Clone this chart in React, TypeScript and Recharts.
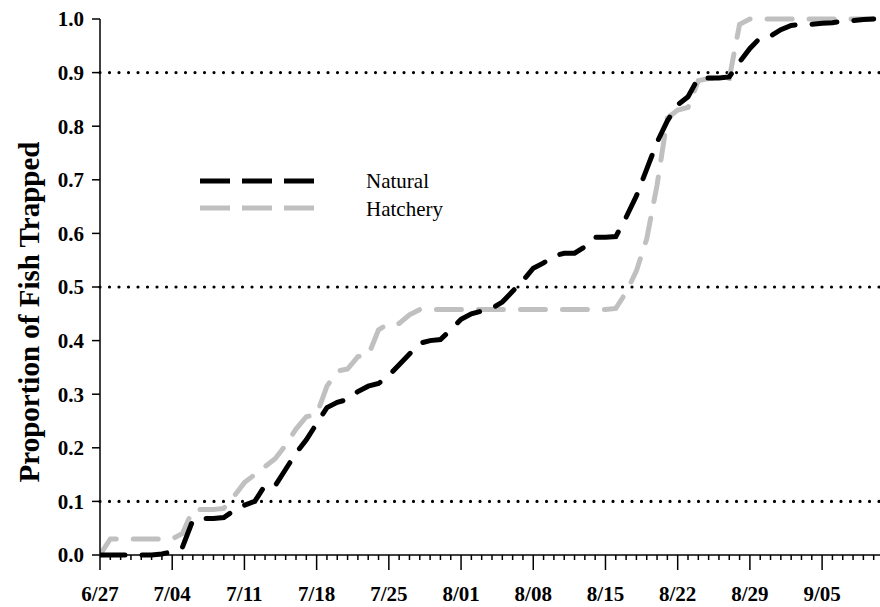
import React from 'react';
import { LineChart, Line, XAxis, YAxis, ReferenceLine, Legend, Label } from 'recharts';

// Days since 6/27 (0..75)
const days: number[] = Array.from({ length: 76 }, (_, i) => i);

const natural: number[] = [
  0, 0, 0, 0, 0, 0, 0.002, 0.006, 0.015, 0.065,
  0.068, 0.068, 0.07, 0.083, 0.093, 0.1, 0.13, 0.13, 0.16, 0.19,
  0.215, 0.245, 0.275, 0.285, 0.29, 0.305, 0.315, 0.32, 0.335, 0.355,
  0.375, 0.395, 0.4, 0.402, 0.42, 0.44, 0.45, 0.455, 0.46, 0.472,
  0.492, 0.512, 0.535, 0.545, 0.558, 0.563, 0.563, 0.575, 0.593, 0.593,
  0.594, 0.63, 0.67, 0.72, 0.77, 0.81, 0.84, 0.855, 0.89, 0.89,
  0.89, 0.892, 0.92, 0.945, 0.965, 0.968, 0.98, 0.988, 0.99, 0.99,
  0.992, 0.993, 0.996, 0.997, 0.999, 1.0,
];

const hatchery: number[] = [
  0, 0.03, 0.03, 0.03, 0.03, 0.03, 0.03, 0.03, 0.04, 0.085,
  0.085, 0.085, 0.087, 0.11, 0.135, 0.15, 0.165, 0.18, 0.205, 0.235,
  0.258, 0.262, 0.315, 0.343, 0.347, 0.37, 0.372, 0.42, 0.432, 0.432,
  0.448, 0.458, 0.458, 0.458, 0.458, 0.458, 0.458, 0.458, 0.458, 0.458,
  0.458, 0.458, 0.458, 0.458, 0.458, 0.458, 0.458, 0.458, 0.458, 0.458,
  0.46, 0.49, 0.53, 0.59, 0.69, 0.815, 0.83, 0.835, 0.885, 0.889,
  0.889, 0.889, 0.99, 1.0, 1.0, 1.0, 1.0, 1.0, 1.0, 1.0,
  1.0, 1.0, 1.0, 1.0, 1.0, 1.0,
];

const xTickLabels: string[] = ['6/27', '7/04', '7/11', '7/18', '7/25', '8/01', '8/08', '8/15', '8/22', '8/29', '9/05', '9/12'];
const xTicks: number[] = Array.from({ length: 77 }, (_, i) => i);
const yTicks: number[] = [0, 0.1, 0.2, 0.3, 0.4, 0.5, 0.6, 0.7, 0.8, 0.9, 1.0];
const refLevels: number[] = [0.1, 0.5, 0.9];
const seriesNames = { natural: 'Natural', hatchery: 'Hatchery' };
const yTitle = 'Proportion of Fish Trapped';

const data = days.map((d, i) => ({ day: d, natural: natural[i], hatchery: hatchery[i] }));

const FONT = '"Liberation Serif", "Times New Roman", serif';
const DASH = '25 17';

const XTick = (props: any) => {
  const { x, y, payload } = props;
  const v = payload.value as number;
  const major = v % 7 === 0;
  return (
    <g>
      <line x1={x} x2={x} y1={y} y2={y + (major ? 15 : 5)} stroke="#000" strokeWidth={1.5} />
      {major && (
        <text x={x} y={y + 46} textAnchor="middle" fontFamily={FONT} fontWeight="bold" fontSize={21} fill="#000">
          {xTickLabels[v / 7]}
        </text>
      )}
    </g>
  );
};

const LegendContent = () => (
  <svg width={320} height={60} style={{ overflow: 'visible', display: 'block' }}>
    <line x1={5} x2={122} y1={16} y2={16} stroke="#000" strokeWidth={5} strokeDasharray="30 12" />
    <text x={171} y={23} fontFamily={FONT} fontSize={21} fill="#000">{seriesNames.natural}</text>
    <line x1={5} x2={122} y1={43} y2={43} stroke="#c0c0c0" strokeWidth={5} strokeDasharray="30 12" />
    <text x={171} y={51} fontFamily={FONT} fontSize={21} fill="#000">{seriesNames.hatchery}</text>
  </svg>
);

const YTitle = () => (
  <text
    transform="translate(39, 312) rotate(-90)"
    textAnchor="middle"
    fontFamily={FONT}
    fontWeight="bold"
    fontSize={29}
    fill="#000"
  >
    {yTitle}
  </text>
);

export default function App() {
  return (
    <div style={{ position: 'absolute', left: 0, top: 0, width: 880, height: 607, overflow: 'hidden', background: '#fff' }}>
      <LineChart width={884} height={607} data={data} margin={{ top: 19, right: 0, left: 0, bottom: 0 }}>
        <XAxis
          dataKey="day"
          type="number"
          domain={[0, 76]}
          ticks={xTicks}
          interval={0}
          tick={<XTick />}
          tickLine={false}
          tickSize={0}
          tickMargin={0}
          height={52}
          axisLine={{ stroke: '#000', strokeWidth: 1.5 }}
          allowDataOverflow
        />
        <YAxis
          type="number"
          domain={[0, 1]}
          ticks={yTicks}
          interval={0}
          width={100}
          tickSize={8}
          tickMargin={8}
          tickFormatter={(v: number) => v.toFixed(1)}
          tick={{ fontFamily: FONT, fontWeight: 'bold', fontSize: 21, fill: '#000' }}
          tickLine={{ stroke: '#000', strokeWidth: 1.5 }}
          axisLine={{ stroke: '#000', strokeWidth: 1.5 }}
        >
          <Label content={<YTitle />} />
        </YAxis>
        {refLevels.map((r) => (
          <ReferenceLine key={r} y={r} stroke="#000" strokeWidth={3.2} strokeDasharray="0 9.5" strokeLinecap="round" />
        ))}
        <Legend
          layout="horizontal"
          verticalAlign="middle"
          align="center"
          content={<LegendContent />}
          wrapperStyle={{ position: 'absolute', left: 195, top: 165, width: 320 }}
        />
        <Line
          type="linear"
          dataKey="hatchery"
          name={seriesNames.hatchery}
          stroke="#c0c0c0"
          strokeWidth={5}
          strokeDasharray={DASH}
          strokeLinecap="round"
          dot={false}
          activeDot={false}
          isAnimationActive={false}
        />
        <Line
          type="linear"
          dataKey="natural"
          name={seriesNames.natural}
          stroke="#000"
          strokeWidth={5}
          strokeDasharray={DASH}
          strokeLinecap="round"
          dot={false}
          activeDot={false}
          isAnimationActive={false}
        />
      </LineChart>
    </div>
  );
}
